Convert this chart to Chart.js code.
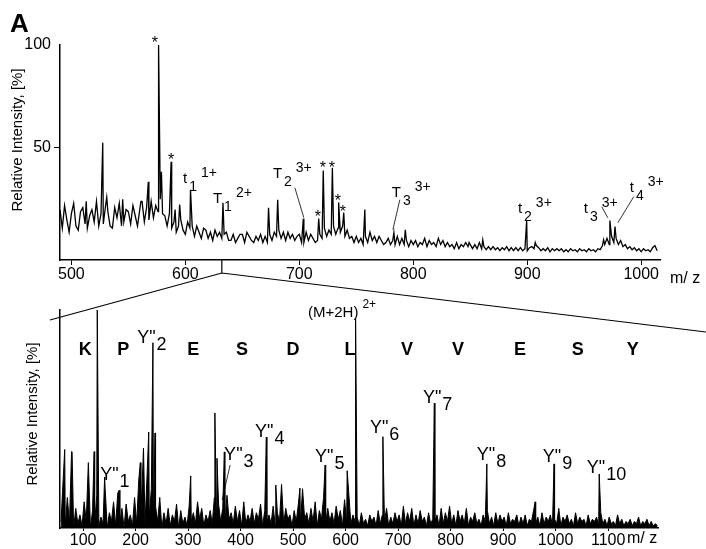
<!DOCTYPE html>
<html>
<head>
<meta charset="utf-8">
<script src="https://cdn.jsdelivr.net/npm/chart.js@4.4.0/dist/chart.umd.min.js"></script>
<style>
  html, body { margin: 0; padding: 0; background: #fff; }
  #wrap { position: relative; width: 706px; height: 549px; }
  #topChart { position: absolute; left: 0; top: 0; }
  #bottomChart { position: absolute; left: 0; top: 250px; }
</style>
</head>
<body>
<div id="wrap">
  <canvas id="topChart" width="706" height="290"></canvas>
  <canvas id="bottomChart" width="706" height="299"></canvas>
</div>
<script>
// ---- top spectrum (m/z 490 - 1014, sampled every 2) ----
const TOP_START = 490, TOP_STEP = 2;
const topNoise = [
  20, 11, 22, 15, 9, 18, 23, 12, 10, 19,
  21, 13, 11, 17, 20, 14, 24, 12, 18, 13,
  22, 19, 12, 11, 21, 16, 23, 12, 14, 20,
  19, 13, 22, 17, 12, 20, 24, 14, 21, 15,
  24, 16, 22, 19, 25, 18, 17, 12, 18, 11,
  14, 9, 12, 15, 10, 8, 14, 11, 12, 7,
  12, 9, 6, 11, 10, 6, 9, 5, 10, 7,
  9, 6, 8, 9, 5, 5, 8, 4, 6, 8,
  8, 4, 9, 7, 5, 4, 7, 5, 8, 4,
  7, 4, 8, 5, 9, 7, 10, 6, 9, 5,
  9, 6, 8, 5, 7, 8, 4, 4, 9, 5,
  8, 6, 4, 5, 8, 6, 11, 7, 10, 8,
  12, 8, 11, 9, 12, 7, 10, 6, 7, 4,
  7, 4, 6, 3, 7, 4, 9, 5, 7, 4,
  7, 5, 3, 4, 6, 3, 5, 3, 7, 3,
  6, 3, 5, 2, 5, 3, 5, 2, 4, 3,
  6, 2, 5, 3, 4, 2, 6, 3, 5, 2,
  4, 2, 3, 1, 4, 1, 3, 2, 4, 2,
  3, 1, 3, 1, 4, 1, 2, 0.5, 2, 0.5,
  2, 0.5, 1.5, 0, 1.5, 0.5, 2, 0, 1.5, 0,
  1.5, 0, 1.5, 0, 1, 0, 1.5, 2, 1, 2.5,
  1.5, 0, 1, 0, 1.5, -0.5, 1, 0, 1, 0,
  1, -0.5, 0.5, -0.5, 1, 0, 0.5, -0.5, 1, 0,
  0.5, -0.5, 1, 0, 0.5, -0.5, 1, 0.5, 2.5, 3,
  6, 3, 7, 4, 6, 3, 5, 2, 3, 1,
  2, 0.5, 1.5, 0, 1, -0.5, 1, 0, 0.5, -0.5,
  1.5, 2.5, 0
];
const topPeakMz  = [513, 527.5, 531, 545, 561, 567.5, 576.5, 579, 587.5, 591, 595, 604.5, 633, 673, 681, 703.5, 717, 721, 729, 734.5, 739, 757.5, 783, 793, 849, 861, 899.5, 907, 967, 972.5, 977];
const topPeakInt = [24, 52.5, 26, 25, 24, 33.5, 100, 38.4, 43.3, 20, 22.4, 29.7, 23.3, 20.9, 24.8, 15.6, 15.6, 39, 40.3, 23.5, 18.5, 20, 8.8, 10.2, 4, 5.3, 14.7, 4, 5.3, 14.7, 11.8];
const topTicks = [500, 600, 700, 800, 900, 1000];
const topYTicks = [50, 100];

// labels of the top spectrum
const topIonBase = ['t', 'T', 'T', 'T', 't', 't', 't'];
const topIonSub  = ['1', '1', '2', '3', '2', '3', '4'];
const topIonSup  = ['1+', '2+', '3+', '3+', '3+', '3+', '3+'];
const topIonMz   = [597.9, 624.2, 676.8, 781.2, 891.8, 949.6, 990];
const topIonInt  = [33.1, 23.3, 35.5, 26.3, 18.5, 18.5, 28.7];
const topStarMz  = [573.3, 587.4, 720.7, 728.6, 716.3, 733.9, 738.2];
const topStarInt = [103.1, 46.2, 42.3, 42.3, 18.5, 26.3, 20.9];
// leader lines: [mz1, int1, mz2, int2]
const topLeaders = [
  [696.1, 30.6, 704, 16.0],
  [788.2, 24.8, 782.1, 10.2],
  [965.4, 21.4, 970.7, 16.0],
  [993.5, 26.3, 979.5, 13.6]
];
const ZOOM_MZ = 632;

// ---- bottom spectrum (m/z 58 - 1194, sampled every 4) ----
const BOT_START = 58, BOT_STEP = 4;
const botNoise = [
  3, 22, 1, 14, 2, 35, 0, 9, 2, 6,
  1, 12, 3, 30, 0, 8, 2, 15, 1, 5,
  2, 18, 0, 7, 3, 12, 1, 16, 2, 9,
  0, 11, 3, 6, 1, 14, 2, 22, 4, 30,
  2, 25, 5, 18, 1, 10, 3, 14, 0, 7,
  2, 9, 1, 6, 3, 11, 0, 8, 2, 5,
  1, 10, 3, 7, 2, 12, 4, 9, 1, 6,
  3, 8, 2, 14, 5, 11, 3, 9, 2, 15,
  4, 7, 2, 10, 3, 8, 1, 12, 2, 6,
  3, 9, 2, 7, 4, 11, 1, 8, 3, 6,
  2, 10, 1, 7, 3, 20, 2, 9, 4, 6,
  1, 8, 3, 11, 2, 18, 4, 7, 2, 9,
  3, 12, 1, 8, 4, 14, 2, 9, 3, 7,
  2, 10, 4, 8, 1, 13, 3, 16, 2, 6,
  3, 5, 1, 7, 2, 4, 1, 6, 3, 5,
  1, 8, 2, 6, 3, 9, 1, 5, 2, 7,
  3, 6, 1, 10, 2, 7, 3, 9, 1, 6,
  2, 8, 3, 5, 1, 7, 2, 4, 3, 6,
  1, 9, 2, 7, 3, 10, 2, 6, 1, 8,
  3, 6, 2, 9, 1, 5, 3, 7, 2, 4,
  1, 6, 3, 8, 2, 5, 1, 7, 2, 6,
  3, 5, 1, 7, 2, 4, 3, 6, 1, 5,
  2, 6, 1, 4, 3, 8, 2, 5, 1, 7,
  2, 5, 3, 6, 1, 4, 2, 9, 1, 5,
  3, 6, 2, 4, 1, 7, 2, 5, 3, 4,
  1, 6, 2, 4, 3, 5, 1, 7, 2, 4,
  1, 5, 2, 3, 1, 6, 2, 4, 1, 3,
  2, 4, 1, 3, 2, 5, 1, 3, 2, 4,
  1, 3, 1, 2, 1
];
const botPeakMz  = [65, 79, 121, 127, 141, 169, 209, 215, 225, 233, 237, 305, 351, 355, 369, 449, 467, 513, 561, 603, 619, 671, 769, 869, 961, 997, 1083];
const botPeakInt = [36, 35, 35, 100, 23.4, 17.4, 30, 36.7, 44, 85, 43.6, 23.9, 52.8, 32, 34.9, 41.7, 19.7, 18.3, 28.9, 26.3, 96.3, 41.9, 57.3, 29.4, 12, 29.4, 24.8];
const botTicks = [100, 200, 300, 400, 500, 600, 700, 800, 900, 1000, 1100];

const botIonSub = ['1', '2', '3', '4', '5', '6', '7', '8', '9', '10'];
const botIonMz  = [132.5, 203, 368.6, 427.6, 541.9, 646.4, 747.2, 850, 975.6, 1059.4];
const botIonInt = [22, 84.9, 31.2, 41.7, 30.3, 43.6, 57.3, 31.2, 30.3, 25.2];
const seqLetters = ['K', 'P', 'E', 'S', 'D', 'L', 'V', 'V', 'E', 'S', 'Y'];
const seqMz = [104, 176.3, 309.6, 402.8, 499.9, 608.4, 716.9, 814, 932, 1042.3, 1147];
const SEQ_INT = 81.7;
const parentMz = 528.3, parentInt = 96.8;
const botLeader = [380, 28.9, 364.8, 12.8];

const FONT = "'Liberation Sans', Arial, Helvetica, sans-serif";
Chart.defaults.font.family = FONT;
Chart.defaults.color = '#000';

function buildTrace(start, step, noise, peakMz, peakInt) {
  const pts = noise.map((v, i) => ({ x: start + i * step, y: v }));
  peakMz.forEach((m, i) => pts.push({ x: m, y: peakInt[i] }));
  return pts.sort((a, b) => a.x - b.x);
}

// base text, then subscript, then superscript
function drawIon(ctx, x, y, base, sub, sup, size, subSize, subGap, subDy, supDy) {
  ctx.textAlign = 'left';
  ctx.textBaseline = 'alphabetic';
  ctx.font = size + 'px ' + FONT;
  ctx.fillText(base, x, y);
  let sx = x + ctx.measureText(base).width + subGap;
  ctx.font = subSize + 'px ' + FONT;
  if (sub) {
    ctx.fillText(sub, sx, y + subDy);
    sx += ctx.measureText(sub).width;
  }
  if (sup) {
    ctx.fillText(sup, sx + 4, y + supDy);
  }
}

function drawTitle(ctx, text, cx, cy) {
  ctx.save();
  ctx.translate(cx, cy);
  ctx.rotate(-Math.PI / 2);
  ctx.font = '15px ' + FONT;
  ctx.textAlign = 'center';
  ctx.textBaseline = 'middle';
  ctx.fillText(text, 0, 0);
  ctx.restore();
}

const topLabels = {
  id: 'topLabels',
  afterDatasetsDraw(chart) {
    const { ctx, chartArea } = chart;
    const x = chart.scales.x, y = chart.scales.y;
    ctx.save();
    ctx.fillStyle = '#000';
    ctx.strokeStyle = '#000';

    ctx.font = 'bold 26px ' + FONT;
    ctx.textAlign = 'left';
    ctx.textBaseline = 'alphabetic';
    ctx.fillText('A', 10, 32);

    drawTitle(ctx, 'Relative Intensity, [%]', chartArea.left - 42, chartArea.top + 95);

    ctx.font = '16px ' + FONT;
    ctx.fillText('m/ z', chartArea.right + 10, chartArea.bottom + 23);

    topIonBase.forEach((b, i) => {
      drawIon(ctx, x.getPixelForValue(topIonMz[i]), y.getPixelForValue(topIonInt[i]),
        b, topIonSub[i], topIonSup[i], 15, 14, 2, 8, -6);
    });

    ctx.font = '16px ' + FONT;
    ctx.textAlign = 'center';
    ctx.textBaseline = 'alphabetic';
    topStarMz.forEach((m, i) => {
      ctx.fillText('*', x.getPixelForValue(m), y.getPixelForValue(topStarInt[i]) + 9);
    });

    ctx.lineWidth = 0.8;
    topLeaders.forEach(l => {
      ctx.beginPath();
      ctx.moveTo(x.getPixelForValue(l[0]), y.getPixelForValue(l[1]));
      ctx.lineTo(x.getPixelForValue(l[2]), y.getPixelForValue(l[3]));
      ctx.stroke();
    });
    ctx.restore();
  }
};

const topChart = new Chart(document.getElementById('topChart'), {
  type: 'line',
  data: {
    datasets: [{
      data: buildTrace(TOP_START, TOP_STEP, topNoise, topPeakMz, topPeakInt),
      borderColor: '#000',
      borderWidth: 1.3,
      pointRadius: 0,
      tension: 0
    }]
  },
  options: {
    responsive: false,
    animation: false,
    layout: { padding: { left: 0, top: 45, right: 46, bottom: 0 } },
    plugins: { legend: { display: false }, tooltip: { enabled: false } },
    scales: {
      x: {
        type: 'linear', min: 490, max: 1016.5,
        afterBuildTicks: s => { s.ticks = topTicks.map(v => ({ value: v })); },
        afterFit: s => { s.height = 30; },
        grid: { drawOnChartArea: false, tickLength: 5, color: '#000', lineWidth: 1 },
        border: { color: '#000', width: 1.5 },
        ticks: { color: '#000', font: { size: 16 }, padding: 0, maxRotation: 0, autoSkip: false,
                 callback: v => String(v) }
      },
      y: {
        min: -4.5, max: 100,
        afterBuildTicks: s => { s.ticks = topYTicks.map(v => ({ value: v })); },
        afterFit: s => { s.width = 60; },
        grid: {
          drawOnChartArea: false, tickLength: 6, lineWidth: 1,
          color: c => (c.tick && c.tick.value === 50 ? '#000' : 'rgba(0,0,0,0)')
        },
        border: { color: '#000', width: 1.5 },
        ticks: { color: '#000', font: { size: 16 }, padding: 3, callback: v => String(v) }
      }
    }
  },
  plugins: [topLabels]
});

const bottomLabels = {
  id: 'bottomLabels',
  afterDatasetsDraw(chart) {
    const { ctx, chartArea } = chart;
    const x = chart.scales.x, y = chart.scales.y;
    ctx.save();
    ctx.fillStyle = '#000';
    ctx.strokeStyle = '#000';

    // expansion lines from the top spectrum down to this one
    const offset = chart.canvas.offsetTop - topChart.canvas.offsetTop;
    const vx = topChart.scales.x.getPixelForValue(ZOOM_MZ);
    const axisY = topChart.chartArea.bottom - offset;
    const vy = axisY + 13;
    ctx.lineWidth = 1.2;
    ctx.beginPath();
    ctx.moveTo(vx, axisY);
    ctx.lineTo(vx, vy);
    ctx.moveTo(chartArea.left - 10, chartArea.top + 10);
    ctx.lineTo(vx, vy);
    ctx.lineTo(chart.width, chartArea.top + 22);
    ctx.stroke();

    drawTitle(ctx, 'Relative Intensity, [%]', chartArea.left - 27, chartArea.top + 104);

    ctx.font = '16px ' + FONT;
    ctx.textAlign = 'left';
    ctx.textBaseline = 'alphabetic';
    ctx.fillText('m/ z', chartArea.right - 31, chartArea.bottom + 15);

    ctx.font = 'bold 18px ' + FONT;
    ctx.textAlign = 'center';
    ctx.textBaseline = 'middle';
    seqLetters.forEach((s, i) => {
      ctx.fillText(s, x.getPixelForValue(seqMz[i]), y.getPixelForValue(SEQ_INT));
    });

    drawIon(ctx, x.getPixelForValue(parentMz), y.getPixelForValue(parentInt),
      '(M+2H)', '', '2+', 15, 12, 0, 0, -9);

    botIonSub.forEach((s, i) => {
      drawIon(ctx, x.getPixelForValue(botIonMz[i]), y.getPixelForValue(botIonInt[i]),
        'Y"', s, '', 18, 18, 1, 7, 0);
    });

    ctx.lineWidth = 0.8;
    ctx.beginPath();
    ctx.moveTo(x.getPixelForValue(botLeader[0]), y.getPixelForValue(botLeader[1]));
    ctx.lineTo(x.getPixelForValue(botLeader[2]), y.getPixelForValue(botLeader[3]));
    ctx.stroke();
    ctx.restore();
  }
};

new Chart(document.getElementById('bottomChart'), {
  type: 'line',
  data: {
    datasets: [{
      data: buildTrace(BOT_START, BOT_STEP, botNoise, botPeakMz, botPeakInt),
      borderColor: '#000',
      backgroundColor: '#000',
      fill: 'origin',
      borderWidth: 1,
      pointRadius: 0,
      tension: 0,
      clip: false
    }]
  },
  options: {
    responsive: false,
    animation: false,
    layout: { padding: { left: 0, top: 60, right: 48, bottom: 0 } },
    plugins: { legend: { display: false }, tooltip: { enabled: false } },
    scales: {
      x: {
        type: 'linear', min: 56, max: 1195,
        afterBuildTicks: s => { s.ticks = botTicks.map(v => ({ value: v })); },
        afterFit: s => { s.height = 21; },
        grid: { drawOnChartArea: false, tickLength: 3, color: '#000', lineWidth: 1 },
        border: { color: '#000', width: 1.5 },
        ticks: { color: '#000', font: { size: 16 }, padding: 0, maxRotation: 0, autoSkip: false,
                 callback: v => String(v) }
      },
      y: {
        min: 0, max: 100,
        afterFit: s => { s.width = 60; },
        grid: { display: false },
        border: { color: '#000', width: 1.5 },
        ticks: { display: false }
      }
    }
  },
  plugins: [bottomLabels]
});
</script>
</body>
</html>
